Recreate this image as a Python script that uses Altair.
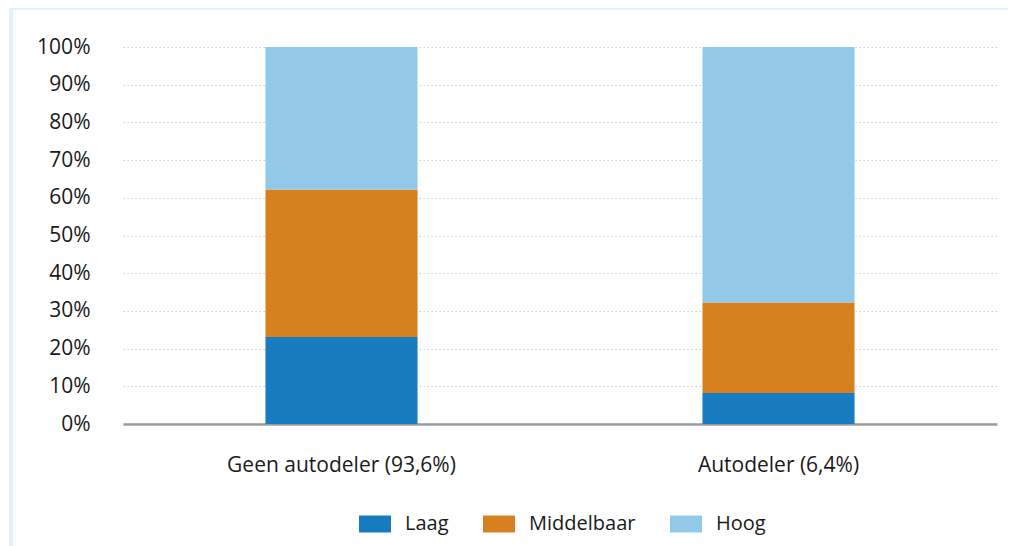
import altair as alt
import pandas as pd

categories = ["Geen autodeler (93,6%)", "Autodeler (6,4%)"]
levels = ["Laag", "Middelbaar", "Hoog"]
laag = [23.1, 8.2]
middelbaar = [39.1, 24.0]
hoog = [37.8, 67.8]
colors = ["#177bbf", "#d78020", "#92c9e8"]
y_ticks = [0, 10, 20, 30, 40, 50, 60, 70, 80, 90, 100]

rows = []
for i, c in enumerate(categories):
    for j, (lvl, vals) in enumerate(zip(levels, [laag, middelbaar, hoog])):
        rows.append({"cat": c, "niveau": lvl, "waarde": vals[i], "ord": j})
df = pd.DataFrame(rows)

FONT = "Open Sans"

bars = alt.Chart(df).mark_bar().encode(
    x=alt.X("cat:N", sort=categories, title=None,
            scale=alt.Scale(paddingInner=0.652, paddingOuter=0.326),
            axis=alt.Axis(labelAngle=0, labelFontSize=21, labelColor="#1a1a1a",
                          labelFont=FONT, labelPadding=30, ticks=False, labelLimit=0,
                          domainColor="#9b9b9b", domainWidth=2.5, grid=False)),
    y=alt.Y("waarde:Q", stack="zero", title=None,
            scale=alt.Scale(domain=[0, 100], nice=False),
            axis=alt.Axis(values=y_ticks, labelExpr="datum.value + '%'",
                          labelFontSize=21, labelColor="#1a1a1a", labelFont=FONT,
                          labelPadding=33, ticks=False, domain=False,
                          grid=True, gridDash=[1.5, 2.5], gridColor="#cfcfcf",
                          gridWidth=1)),
    color=alt.Color("niveau:N", sort=levels,
                    scale=alt.Scale(domain=levels, range=colors),
                    legend=alt.Legend(title=None, orient="none", direction="horizontal",
                                      legendX=236, legendY=461,
                                      symbolType="M-1,-0.53H1V0.53H-1Z",
                                      symbolSize=1024, symbolStrokeWidth=0,
                                      symbolOpacity=1,
                                      labelFontSize=20, labelFont=FONT,
                                      labelColor="#1a1a1a", labelOffset=14,
                                      columnPadding=34, padding=0)),
    order=alt.Order("ord:Q"),
)

frame_left = alt.Chart(df).mark_rule(color="#e3f0fa", strokeWidth=3).encode(
    x=alt.value(-112), y=alt.value(-39), y2=alt.value(520))
frame_top = alt.Chart(df).mark_rule(color="#e3f0fa", strokeWidth=3).encode(
    x=alt.value(-113), x2=alt.value(900), y=alt.value(-39))

chart = alt.layer(frame_left, frame_top, bars).properties(
    width=874, height=377,
    autosize=alt.AutoSizeParams(type="none"),
    padding={"left": 115, "top": 39, "right": 11, "bottom": 122},
).configure(font=FONT, view=alt.ViewConfig(stroke="transparent", strokeWidth=0))

chart.save("out.html", embed_options={"renderer": "svg", "actions": False})
